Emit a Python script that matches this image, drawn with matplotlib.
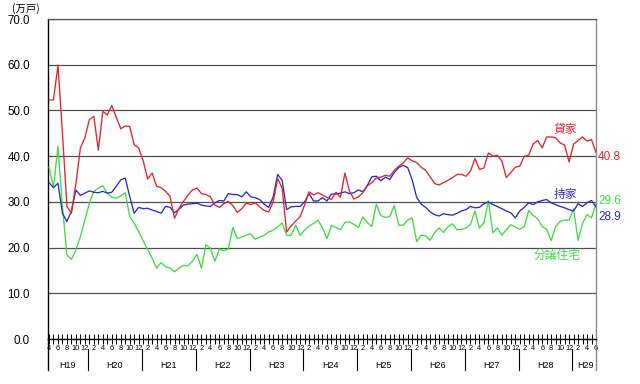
import matplotlib
matplotlib.use('Agg')
import matplotlib.pyplot as plt
from matplotlib.transforms import blended_transform_factory
import numpy as np

plt.rcParams['font.family'] = ['Liberation Sans', 'Noto Sans CJK JP', 'DejaVu Sans']

# ---- data (monthly, from 2007/4 = H19.4 to 2017/6 = H29.6) ----
start_year, start_month = 2007, 4

rent = [52.3, 52.3, 59.9, 45.0, 29.0, 27.5, 34.0, 41.8, 44.0, 48.0,
        48.7, 41.3, 49.8, 49.0, 51.1, 48.5, 46.0, 46.6, 46.5, 42.5,
        41.8, 39.0, 35.0, 36.3, 33.4, 33.1, 32.3, 31.2, 26.4, 28.6,
        30.1, 31.5, 32.6, 33.0, 31.8, 31.6, 31.1, 29.3, 28.8, 29.6,
        30.1, 29.2, 27.7, 28.5, 29.7, 29.4, 29.8, 28.9, 28.1, 27.8,
        30.0, 35.1, 33.0, 23.4, 24.7, 25.8, 26.7, 29.3, 32.2, 31.5,
        32.0, 31.5, 31.0, 30.5, 32.1, 31.0, 36.3, 32.4, 30.6, 31.1,
        32.0, 33.5, 34.2, 35.3, 35.4, 35.8, 35.6, 36.9, 37.8, 38.5,
        39.6, 39.0, 38.6, 37.6, 36.9, 35.5, 34.0, 33.7, 34.2, 34.7,
        35.3, 36.0, 36.0, 35.6, 36.7, 39.5, 37.1, 37.4, 40.7, 40.0,
        40.2, 38.9, 35.3, 36.4, 37.6, 37.8, 40.0, 40.2, 42.7, 43.4,
        41.8, 44.2, 44.2, 44.0, 42.9, 42.4, 38.7, 42.6, 43.4, 44.2,
        43.3, 43.6, 40.8]

owned = [34.2, 33.1, 34.1, 27.5, 25.7, 28.0, 32.6, 31.4, 31.9, 32.4,
         32.1, 32.0, 32.3, 31.9, 32.1, 33.4, 34.8, 35.2, 31.2, 27.5,
         28.8, 28.5, 28.6, 28.2, 27.9, 27.5, 29.0, 28.8, 27.6, 28.4,
         29.3, 29.5, 29.6, 29.7, 29.3, 29.1, 29.0, 29.8, 30.3, 30.2,
         31.8, 31.6, 31.6, 31.1, 32.2, 31.1, 30.9, 30.5, 29.5, 28.8,
         31.1, 36.0, 34.7, 28.3, 28.9, 29.0, 29.0, 30.0, 31.8, 30.2,
         30.2, 30.9, 30.2, 31.7, 31.7, 31.9, 32.2, 31.8, 32.0, 32.6,
         32.2, 33.6, 35.5, 35.6, 34.6, 35.4, 34.9, 36.4, 37.5, 38.0,
         37.5, 34.8, 31.0, 29.5, 28.8, 27.8, 27.2, 26.9, 27.4, 27.2,
         27.1, 27.5, 28.0, 28.3, 29.0, 28.7, 28.8, 29.6, 30.0, 29.4,
         29.0, 28.5, 28.0, 27.6, 26.5, 28.0, 28.8, 29.8, 29.4, 30.0,
         30.3, 30.5, 29.8, 29.4, 29.0, 28.7, 28.3, 28.0, 29.6, 29.0,
         29.8, 30.3, 28.9]

condo = [37.6, 33.2, 42.1, 29.0, 18.4, 17.4, 19.5, 22.4, 26.0, 29.7,
         32.3, 33.0, 33.5, 31.9, 31.0, 30.8, 31.3, 32.0, 26.8, 25.3,
         23.5, 21.5, 19.6, 17.7, 15.5, 16.7, 15.8, 15.5, 14.7, 15.5,
         16.1, 16.0, 17.0, 18.5, 15.5, 20.6, 19.9, 17.0, 19.7, 19.3,
         19.7, 24.4, 22.0, 22.3, 22.7, 23.0, 21.8, 22.3, 22.7, 23.4,
         23.8, 24.5, 25.4, 22.7, 22.7, 24.9, 22.7, 23.8, 24.7, 25.3,
         26.0, 24.3, 22.0, 24.8, 24.4, 23.9, 25.5, 25.6, 25.1, 24.4,
         26.7, 25.5, 24.6, 29.5, 27.0, 26.6, 26.8, 29.2, 24.9, 24.9,
         26.0, 26.5, 21.3, 22.7, 22.6, 21.6, 23.3, 24.3, 23.3, 24.6,
         25.2, 23.9, 24.0, 24.3, 25.0, 28.0, 24.3, 25.4, 30.2, 23.2,
         24.3, 22.7, 23.9, 25.0, 24.5, 24.0, 24.6, 28.1, 27.0, 26.3,
         24.6, 24.0, 21.5, 24.6, 25.7, 26.0, 26.0, 28.5, 21.6, 25.3,
         27.2, 26.5, 29.6]

series_names = ['貸家', '持家', '分譲住宅']
y_ticks = [0, 10, 20, 30, 40, 50, 60, 70]
unit_label = '(万戸)'

RED = '#E2232B'
BLUE = '#2B2BC4'
GREEN = '#3EDB3E'

n = len(rent)
months = [(start_month - 1 + k) % 12 + 1 for k in range(n)]
years = [start_year + (start_month - 1 + k) // 12 for k in range(n)]
x = np.arange(n)

fig = plt.figure(figsize=(6.4, 3.84), dpi=100)
ax = fig.add_axes([48 / 640, 1 - 339 / 384, 548 / 640, 320 / 384])

ax.plot(x, condo, color=GREEN, lw=0.95, zorder=3)
ax.plot(x, owned, color=BLUE, lw=0.95, zorder=4)
ax.plot(x, rent, color=RED, lw=0.95, zorder=5)

xmin = -0.223
ax.set_xlim(xmin, n - 1)
ax.set_ylim(y_ticks[0], y_ticks[-1])

# y axis
ax.set_yticks(y_ticks)
ax.set_yticklabels([f'{v:.1f}' for v in y_ticks], fontsize=8.3)
ax.tick_params(axis='y', length=0, pad=13)
ax.yaxis.grid(True, color='#505050', lw=0.9)
ax.set_axisbelow(True)

# x axis: a tick every month, label on even months
ax.set_xticks(x)
ax.set_xticklabels([str(m) if m % 2 == 0 else '' for m in months], fontsize=5.3)
ax.tick_params(axis='x', direction='inout', length=7, width=0.7, pad=0.5, colors='black')

for s in ['left', 'bottom']:
    ax.spines[s].set_color('black')
    ax.spines[s].set_linewidth(1.0)
ax.spines['right'].set_color('#8a8a8a')
ax.spines['right'].set_linewidth(1.0)
ax.spines['top'].set_color('#505050')
ax.spines['top'].set_linewidth(0.9)

# year separators and labels below the axis
trans = blended_transform_factory(ax.transData, ax.transAxes)
y_low = -0.097
ax.plot([0, 0], [0, y_low], transform=ax.transAxes, color='black', lw=1.0, clip_on=False)
ax.plot([1, 1], [0, y_low], transform=ax.transAxes, color='#8a8a8a', lw=1.0, clip_on=False)
for k in range(1, n):
    if months[k] == 1:
        ax.plot([k - 0.25, k - 0.25], [-0.03, y_low], transform=trans,
                color='black', lw=0.8, clip_on=False)
for yr in sorted(set(years)):
    idx = [k for k in range(n) if years[k] == yr]
    ax.text(np.mean(idx) + 0.2, -0.083, f'H{yr - 1988}', transform=trans,
            ha='center', va='center', fontsize=6.5)

# end value labels
ax.annotate(f'{rent[-1]:.1f}', xy=(n - 1, rent[-1]), xytext=(1.5, -3.2),
            textcoords='offset points', ha='left', va='center', color=RED,
            fontsize=8.5, annotation_clip=False)
ax.annotate(f'{condo[-1]:.1f}', xy=(n - 1, condo[-1]), xytext=(1.5, 2.2),
            textcoords='offset points', ha='left', va='center', color=GREEN,
            fontsize=8.5, annotation_clip=False)
ax.annotate(f'{owned[-1]:.1f}', xy=(n - 1, owned[-1]), xytext=(1.5, -7.5),
            textcoords='offset points', ha='left', va='center', color=BLUE,
            fontsize=8.5, annotation_clip=False)

# series names
cjk = ['Noto Sans CJK JP', 'DejaVu Sans']
ax.text(115.1, 45.9, series_names[0], color=RED, fontsize=8.5, family=cjk,
        ha='center', va='center')
ax.text(115.1, 31.7, series_names[1], color=BLUE, fontsize=8.5, family=cjk,
        ha='center', va='center')
ax.text(113.4, 18.4, series_names[2], color=GREEN, fontsize=8.5, family=cjk,
        ha='center', va='center')

fig.text(26 / 640, 1 - 8.5 / 384, unit_label, family=cjk, fontsize=7.5,
         ha='center', va='center')

fig.savefig('out.png', dpi=100)
